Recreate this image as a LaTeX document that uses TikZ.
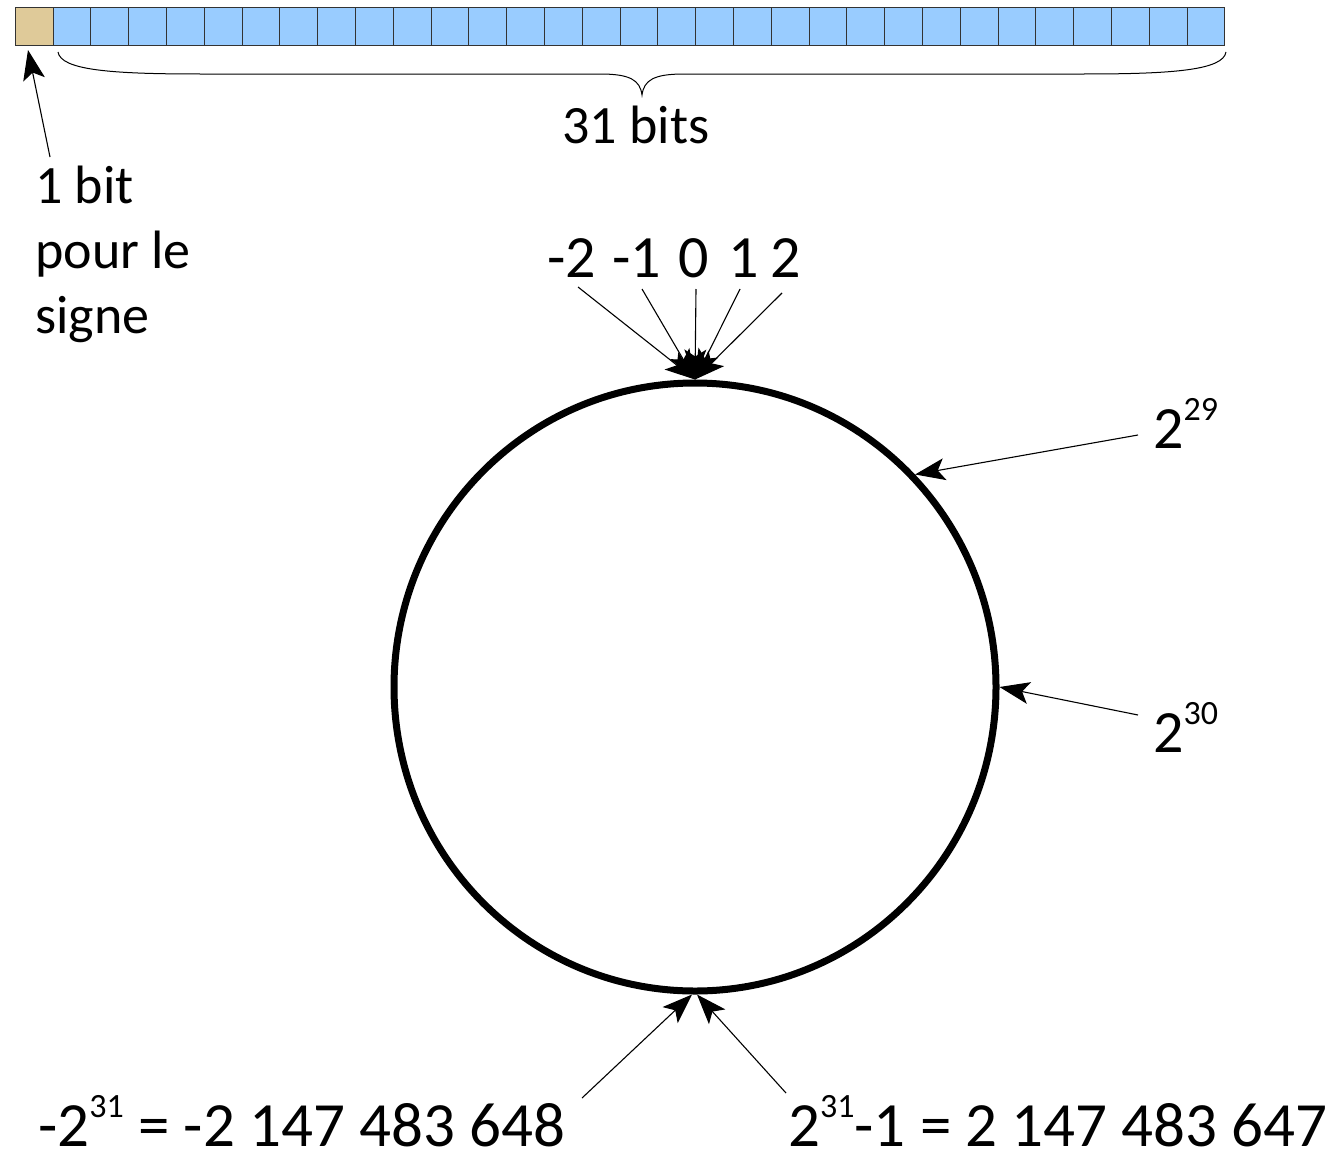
\documentclass[tikz,border=0pt]{standalone}
\usepackage{fontspec}
\setmainfont{Carlito}
\usetikzlibrary{arrows.meta,shapes.geometric}
\definecolor{signtan}{HTML}{DFCA99}
\definecolor{bitblue}{HTML}{99CCFF}
\newcommand\suptxt[1]{\raisebox{0.46em}{\fontsize{34}{36}\selectfont #1}}
\begin{document}
\begin{tikzpicture}[x=1pt,y=-1pt,
  cell/.style={draw=black!80, line width=1pt, minimum width=37.8pt, minimum height=38pt, inner sep=0pt, outer sep=0pt, anchor=north west},
  arr/.style={line width=1.1pt, -{Stealth[length=30pt,width=22pt,inset=7pt]}},
  lbl/.style={inner sep=0pt, anchor=base west, font=\fontsize{60}{72}\selectfont},
  big/.style={inner sep=0pt, anchor=base west, font=\fontsize{63}{76}\selectfont},
  small/.style={inner sep=0pt, anchor=base west, font=\fontsize{54}{64}\selectfont}]
\useasboundingbox (0,0) rectangle (1340,1156);
% bit bar
\node[cell, fill=signtan, minimum width=38pt] (sign) at (15,8) {};
\foreach \i in {0,...,30} {
  \node[cell, fill=bitblue] (b\i) at ({53+\i*37.8},8) {};
}
% brace
\draw[line width=1pt] (58,52) .. controls (61,70) and (110,74) .. (200,74) -- (600,74)
  .. controls (630,74) and (640,80) .. (642,95)
  .. controls (644,80) and (654,74) .. (684,74) -- (1084,74)
  .. controls (1174,74) and (1223,70) .. (1226,52);
\node[small, anchor=base] (n31) at (636,143) {31 bits};
% sign bit label
\node[small] (l1) at (35,203) {1 bit};
\node[small] (l2) at (35,268) {pour le};
\node[small] (l3) at (35,333) {signe};
\coordinate (s1) at (50,157);
\draw[arr] (s1) -- ([xshift=-6pt,yshift=-4pt]sign.south);
% ring
\node[draw, ellipse, line width=7pt, minimum width=602pt, minimum height=608pt, inner sep=0pt] (ring) at (695,687) {};
% top labels
\node[lbl] (m2) at (547,277) {-2};
\node[lbl] (m1) at (612,277) {-1};
\node[lbl] (z0) at (678,277) {0};
\node[lbl] (p1) at (728,277) {1};
\node[lbl] (p2) at (770,277) {2};
\coordinate (sm2) at (578,287);
\coordinate (sm1) at (642,289);
\coordinate (sz0) at (696,289);
\coordinate (sp1) at (740,289);
\coordinate (sp2) at (782,293);
\foreach \c in {sm2,sm1,sz0,sp1,sp2} {
  \draw[arr] (\c) -- (ring.north);
}
% right labels
\node[lbl] (t29) at (1153,448) {2\suptxt{29}};
\node[lbl] (t30) at (1153,752) {2\suptxt{30}};
\coordinate (s29) at (1138,435);
\coordinate (s30) at (1138,715);
\draw[arr] (s29) -- (ring.44);
\draw[arr] (s30) -- (ring.east);
% bottom labels
\node[big] (lmin) at (38,1146) {-2\suptxt{31} = -2 147 483 648};
\node[big] (lmax) at (788,1146) {2\suptxt{31}-1 = 2 147 483 647};
\coordinate (smin) at (582,1098);
\coordinate (smax) at (786,1093);
\draw[arr] (smin) -- ([xshift=-3pt]ring.south);
\draw[arr] (smax) -- ([xshift=2pt]ring.south);
\end{tikzpicture}
\end{document}
